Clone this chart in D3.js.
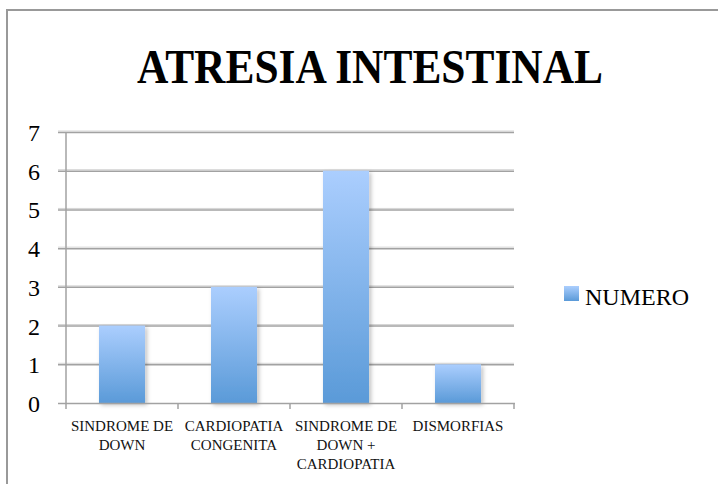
<!DOCTYPE html>
<html><head><meta charset="utf-8">
<script src="https://cdn.jsdelivr.net/npm/d3@7"></script>
<style>html,body{margin:0;padding:0;background:#fff;}svg{display:block;}</style>
</head><body>
<svg id="c" width="718" height="484"></svg>
<script>
const categories = [["SINDROME DE","DOWN"],["CARDIOPATIA","CONGENITA"],["SINDROME DE","DOWN +","CARDIOPATIA"],["DISMORFIAS"]];
const values = [2, 3, 6, 1];
const yTicks = [0,1,2,3,4,5,6,7];
const seriesName = "NUMERO";
const title = "ATRESIA INTESTINAL";

const svg = d3.select("#c");
const font = "'Liberation Serif', 'DejaVu Serif', serif";

const defs = svg.append("defs");
const grad = defs.append("linearGradient").attr("id","g").attr("x1",0).attr("y1",0).attr("x2",0).attr("y2",1);
grad.append("stop").attr("offset","0%").attr("stop-color","#abcefe");
grad.append("stop").attr("offset","100%").attr("stop-color","#5a9ad8");
const f = defs.append("filter").attr("id","sh").attr("x","-20%").attr("y","-20%").attr("width","150%").attr("height","150%");
f.append("feDropShadow").attr("dx",2).attr("dy",2).attr("stdDeviation",2).attr("flood-color","#000").attr("flood-opacity",0.25);

// border
svg.append("rect").attr("x",7).attr("y",10).attr("width",740).attr("height",500)
  .attr("fill","none").attr("stroke","#999").attr("stroke-width",2);

// title
svg.append("text").attr("x",370).attr("y",83).attr("text-anchor","middle")
  .attr("font-family",font).attr("font-weight","bold").attr("font-size",49)
  .attr("textLength",466).attr("lengthAdjust","spacingAndGlyphs")
  .attr("fill","#000").text(title);

const x = d3.scaleBand().domain(d3.range(categories.length)).range([66,514]).paddingInner(0.589).paddingOuter(0.2945);
const y = d3.scaleLinear().domain([0,7]).range([403,132]);

// gridlines
const g = svg.append("g");
yTicks.forEach(t=>{
  if(t>0){
    g.append("line").attr("x1",58).attr("x2",514).attr("y1",y(t)-1).attr("y2",y(t)-1).attr("stroke","#d4d4d4").attr("stroke-width",1);
    g.append("line").attr("x1",58).attr("x2",514).attr("y1",y(t)+0.5).attr("y2",y(t)+0.5).attr("stroke","#a2a2a2").attr("stroke-width",1.5);
  }
  g.append("text").attr("x",40).attr("y",y(t)+9).attr("text-anchor","end")
    .attr("font-family",font).attr("font-size",24).attr("fill","#000").text(t);
});

// bars
svg.append("g").selectAll("rect").data(values).join("rect")
  .attr("x",(d,i)=>x(i)).attr("width",x.bandwidth())
  .attr("y",d=>y(d)).attr("height",d=>y(0)-y(d))
  .attr("fill","url(#g)").attr("filter","url(#sh)");

// axes
svg.append("line").attr("x1",66).attr("x2",66).attr("y1",y(7)).attr("y2",y(0)).attr("stroke","#a2a2a2").attr("stroke-width",1.5);
svg.append("line").attr("x1",58).attr("x2",515).attr("y1",y(0)+0.5).attr("y2",y(0)+0.5).attr("stroke","#a2a2a2").attr("stroke-width",1.5);
const step = x.step();
for(let i=0;i<=categories.length;i++){
  const xx = 66 + i*step;
  svg.append("line").attr("x1",xx).attr("x2",xx).attr("y1",y(0)).attr("y2",y(0)+6).attr("stroke","#a2a2a2").attr("stroke-width",1.5);
}

// x labels
categories.forEach((lines,i)=>{
  const cx = x(i)+x.bandwidth()/2;
  const t = svg.append("text").attr("text-anchor","middle").attr("font-family",font).attr("font-size",15).attr("fill","#111");
  lines.forEach((l,j)=>{
    t.append("tspan").attr("x",cx).attr("y",431+j*19).text(l);
  });
});

// legend
svg.append("rect").attr("x",564).attr("y",286).attr("width",15).attr("height",15).attr("fill","url(#g)");
svg.append("text").attr("x",585).attr("y",305).attr("font-family",font).attr("font-size",24).attr("fill","#000").text(seriesName);
</script>
</body></html>
